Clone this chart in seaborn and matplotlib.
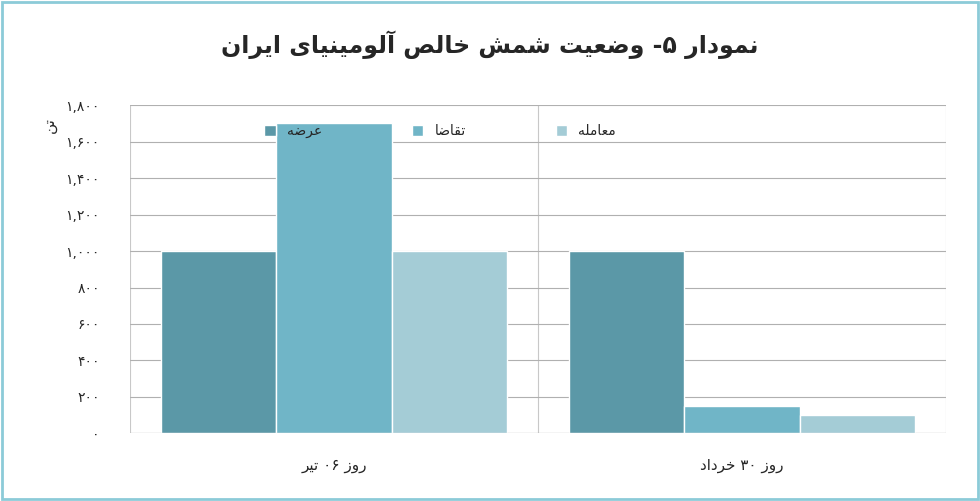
import matplotlib
matplotlib.use("Agg")
import matplotlib.pyplot as plt
import seaborn as sns
import pandas as pd
from matplotlib.patches import Rectangle

categories = ["روز ۰۶ تیر", "روز ۳۰ خرداد"]
series = ["عرضه", "تقاضا", "معامله"]
supply = [1000, 1000]
demand = [1700, 150]
traded = [1000, 100]
yticks = [0, 200, 400, 600, 800, 1000, 1200, 1400, 1600, 1800]
title = "نمودار ۵- وضعیت شمش خالص آلومینیای ایران"
ylabel = "تن"
colors = ["#5b98a7", "#70b5c7", "#a4ccd6"]

FORMS = {
    'ا': (0xFE8D, 0xFE8E, None, None), 'آ': (0xFE81, 0xFE82, None, None),
    'ت': (0xFE95, 0xFE96, 0xFE97, 0xFE98), 'خ': (0xFEA5, 0xFEA6, 0xFEA7, 0xFEA8),
    'د': (0xFEA9, 0xFEAA, None, None), 'ر': (0xFEAD, 0xFEAE, None, None),
    'ز': (0xFEAF, 0xFEB0, None, None), 'ش': (0xFEB5, 0xFEB6, 0xFEB7, 0xFEB8),
    'ص': (0xFEB9, 0xFEBA, 0xFEBB, 0xFEBC), 'ض': (0xFEBD, 0xFEBE, 0xFEBF, 0xFEC0),
    'ع': (0xFEC9, 0xFECA, 0xFECB, 0xFECC), 'ق': (0xFED5, 0xFED6, 0xFED7, 0xFED8),
    'ل': (0xFEDD, 0xFEDE, 0xFEDF, 0xFEE0), 'م': (0xFEE1, 0xFEE2, 0xFEE3, 0xFEE4),
    'ن': (0xFEE5, 0xFEE6, 0xFEE7, 0xFEE8), 'ه': (0xFEE9, 0xFEEA, 0xFEEB, 0xFEEC),
    'و': (0xFEED, 0xFEEE, None, None), 'ی': (0xFBFC, 0xFBFD, 0xFBFE, 0xFBFF),
}

def fa(s):
    out = []
    for i, c in enumerate(s):
        if c not in FORMS:
            out.append(c); continue
        iso, fin, ini, med = FORMS[c]
        p = s[i-1] if i > 0 else ''
        n = s[i+1] if i + 1 < len(s) else ''
        pj = p in FORMS and FORMS[p][2] is not None
        nj = n in FORMS and ini is not None
        if pj and nj: ch = med
        elif pj: ch = fin
        elif nj: ch = ini
        else: ch = iso
        out.append(chr(ch))
    runs, cur, curd = [], "", None
    for c in out:
        d = c.isdigit() or c in ",."
        if curd is None or d == curd:
            cur += c
        else:
            runs.append((cur, curd)); cur = c
        curd = d
    runs.append((cur, curd))
    res = ""
    for r, d in reversed(runs):
        res += r if d else r[::-1]
    return res

def fa_digits(v):
    s = f"{v:,}"
    return s.translate(str.maketrans("0123456789", "۰۱۲۳۴۵۶۷۸۹"))

rows = []
for i, cat in enumerate(categories):
    for name, vals in zip(series, [supply, demand, traded]):
        rows.append({"cat": fa(cat), "series": fa(name), "value": vals[i]})
df = pd.DataFrame(rows)

sns.set_theme(style="white")
plt.rcParams['font.family'] = ['DejaVu Sans']

fig = plt.figure(figsize=(9.8, 5.01), dpi=100)
ax = fig.add_axes([0.133, 0.135, 0.832, 0.655])
sns.barplot(data=df, x="cat", y="value", hue="series", palette=colors,
            width=0.85, ax=ax, saturation=1)
ax.set_ylim(0, 1800)
ax.set_yticks(yticks)
ax.set_yticklabels([fa_digits(v) for v in yticks], fontsize=10)
ax.tick_params(axis='x', labelsize=11, length=0, pad=18)
ax.tick_params(axis='y', length=0, pad=22)
ax.yaxis.grid(True, color="#b0b0b0", linewidth=0.8)
ax.set_axisbelow(True)
for x in [-0.5, 0.5, 1.5]:
    ax.axvline(x, color="#c8c8c8", linewidth=0.8, zorder=0)
ax.set_xlim(-0.5, 1.5)
for sp in ax.spines.values():
    sp.set_visible(False)
ax.axhline(0, color="#999999", linewidth=0.8)
ax.set_xlabel(""); ax.set_ylabel("")
leg = ax.legend(loc="upper center", bbox_to_anchor=(0.38, 0.98), ncol=3,
                frameon=False, fontsize=10, handlelength=0.8, handleheight=0.8,
                columnspacing=6.5)
fig.text(0.05, 0.75, fa(ylabel), rotation=90, fontsize=11, ha="center", va="center")
fig.text(0.5, 0.91, fa(title), fontsize=17, fontweight="bold", ha="center", va="center")
fig.patches.append(Rectangle((0.002, 0.003), 0.996, 0.994, transform=fig.transFigure,
                             fill=False, edgecolor="#8ccbd8", linewidth=2))
fig.savefig("out.png", dpi=100)
